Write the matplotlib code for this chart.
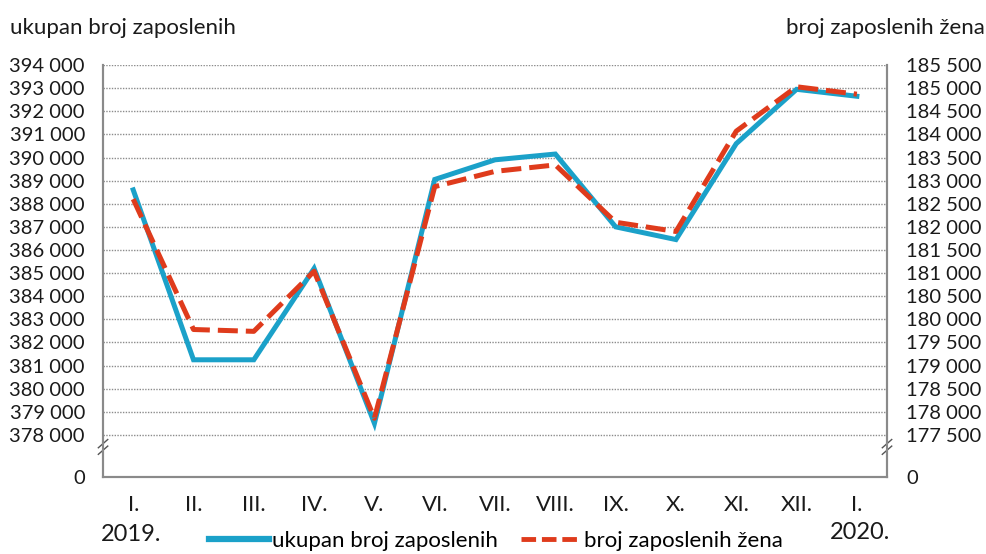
import numpy as np
import matplotlib.pyplot as plt
from matplotlib.lines import Line2D

plt.rcParams['font.family'] = ['Lato', 'DejaVu Sans']

months = ['I.', 'II.', 'III.', 'IV.', 'V.', 'VI.', 'VII.', 'VIII.', 'IX.', 'X.', 'XI.', 'XII.', 'I.']
total_employed = [388600, 381250, 381250, 385200, 378500, 389050, 389900, 390150,
                  387000, 386450, 390600, 392950, 392650]
women_employed = [182600, 179780, 179740, 181040, 177860, 182870, 183200, 183340,
                  182100, 181900, 184070, 185030, 184870]

left_ticks = list(range(378000, 394001, 1000))
right_ticks = list(range(177500, 185501, 500))

# fake "0" at the foot of both axes (axis is broken)
left_zero = 376180
right_zero = 177500 - (378000 - left_zero) / 2

blue = '#1ba1c9'
red = '#df3b1c'
txt = '#1a1a1a'


def fmt(v):
    return f"{v:,}".replace(",", " ")


fig = plt.figure(figsize=(9.87, 5.54), dpi=100)
ax = fig.add_axes([0.1044, 0.139, 0.7943, 0.7436])
ax2 = ax.twinx()

x = np.arange(len(months))
ax.plot(x, total_employed, color=blue, lw=3.6, solid_joinstyle='miter', zorder=3)
ax2.plot(x, women_employed, color=red, lw=3.6, dashes=(4, 1.6), zorder=4)

ax.set_xlim(-0.5, len(months) - 0.5)
ax.set_ylim(left_zero, 394000)
ax2.set_ylim(right_zero, 185500)

ax.set_yticks([left_zero] + left_ticks)
ax.set_yticklabels(['0'] + [fmt(v) for v in left_ticks])
ax2.set_yticks([right_zero] + right_ticks)
ax2.set_yticklabels(['0'] + [fmt(v) for v in right_ticks])

ax.set_xticks(x)
ax.set_xticklabels(months)

for v in left_ticks:
    ax.axhline(v, color='#8c8c8c', lw=1.0, ls=(0, (1, 1)), zorder=1)

for a in (ax, ax2):
    a.tick_params(length=0, labelsize=14.5, colors=txt)
    for s in a.spines.values():
        s.set_color('#8a8a8a')
        s.set_linewidth(1.5)
    a.spines['top'].set_visible(False)
ax.tick_params(axis='y', pad=13)
ax2.tick_params(axis='y', pad=14)
ax.tick_params(axis='x', pad=13, labelsize=16)
ax2.set_zorder(ax.get_zorder() + 1)
ax2.patch.set_visible(False)

# break marks on both axes
for xpos in (0.0, 1.0):
    yb = 0.073
    for dy in (-0.008, 0.008):
        ax.plot([xpos - 0.006, xpos + 0.006], [yb + dy - 0.01, yb + dy + 0.01],
                transform=ax.transAxes, color='#555555', lw=1.0, clip_on=False, zorder=6)
    ax.add_patch(plt.Rectangle((xpos - 0.004, yb - 0.006), 0.008, 0.012,
                               transform=ax.transAxes, color='white', clip_on=False, zorder=5))

fig.text(0.010, 0.950, 'ukupan broj zaposlenih', fontsize=16, color=txt, va='center')
fig.text(0.998, 0.950, 'broj zaposlenih žena', fontsize=16, color=txt, va='center', ha='right')
fig.text(0.133, 0.036, '2019.', fontsize=17, color=txt, va='center', ha='center')
fig.text(0.871, 0.039, '2020.', fontsize=17, color=txt, va='center', ha='center')

handles = [Line2D([], [], color=blue, lw=4.5),
           Line2D([], [], color=red, lw=3.5, dashes=(3, 1.2))]
fig.legend(handles, ['ukupan broj zaposlenih', 'broj zaposlenih žena'],
           loc='center', bbox_to_anchor=(0.5025, 0.024), ncol=2, frameon=False,
           fontsize=16, handlelength=2.7, handletextpad=0.15, columnspacing=1.0,
           borderpad=0)

fig.savefig('out.png', dpi=100)
